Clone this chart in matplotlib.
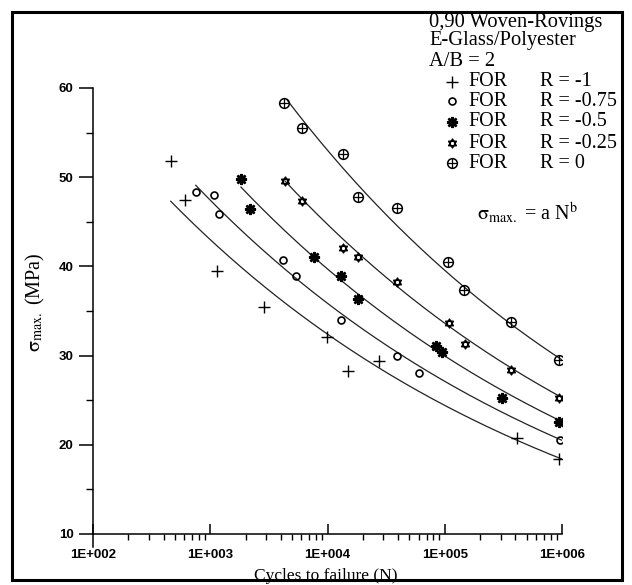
import numpy as np
import matplotlib.pyplot as plt
from matplotlib.lines import Line2D
from matplotlib.patches import Rectangle
from matplotlib.path import Path
from matplotlib.ticker import MultipleLocator, LogLocator, NullFormatter

plt.rcParams['mathtext.fontset'] = 'stix'
SERIF = 'Liberation Serif'
SANS = 'Liberation Sans'

# data
r_labels = ['R = -1', 'R = -0.75', 'R = -0.5', 'R = -0.25', 'R = 0']

n_m100 = [460, 610, 1150, 2890, 9900, 15100, 27500, 411000, 948000]
s_m100 = [51.8, 47.4, 39.5, 35.5, 32.1, 28.3, 29.4, 20.8, 18.4]

n_m075 = [755, 1085, 1194, 4170, 5360, 13100, 39400, 60300, 962000]
s_m075 = [48.3, 48.0, 45.9, 40.7, 38.9, 34.0, 30.0, 28.1, 20.5]

n_m050 = [1828, 2200, 7620, 13100, 18100, 84100, 94200, 307600, 948000]
s_m050 = [49.8, 46.4, 41.0, 38.9, 36.4, 31.1, 30.4, 25.2, 22.6]

n_m025 = [4335, 6030, 13650, 18300, 39400, 108600, 147900, 364800, 948000]
s_m025 = [49.6, 47.3, 42.1, 41.0, 38.3, 33.6, 31.3, 28.4, 25.3]

n_r0 = [4256, 6030, 13650, 18300, 39400, 107200, 145900, 364800, 941900]
s_r0 = [58.3, 55.5, 52.6, 47.8, 46.5, 40.5, 37.4, 33.8, 29.5]

# sigma = a N^b fits, drawn from n_start up to 1e6
fit_a = [100.5, 109.7, 122.6, 139.7, 171.1]
fit_b = [-0.1229, -0.1214, -0.1224, -0.1237, -0.1272]
fit_n0 = [460, 752, 1828, 4335, 4539]
fit_n1 = 1e6

x_ticks = [1e2, 1e3, 1e4, 1e5, 1e6]
x_tick_labels = ['1E+002', '1E+003', '1E+004', '1E+005', '1E+006']
y_ticks = [10, 20, 30, 40, 50, 60]

series_n = [n_m100, n_m075, n_m050, n_m025, n_r0]
series_s = [s_m100, s_m075, s_m050, s_m025, s_r0]

# marker shapes
s3 = np.sqrt(3) / 2
star = Path([(0, 1), (-s3, -0.5), (s3, -0.5), (0, 1),
             (0, -1), (-s3, 0.5), (s3, 0.5), (0, -1)],
            [Path.MOVETO, Path.LINETO, Path.LINETO, Path.CLOSEPOLY] * 2)

styles = [
    [dict(marker='+', ms=8, mew=1.0)],
    [dict(marker='o', ms=5, mfc='none', mew=1.2)],
    [dict(marker=(8, 2, 0), ms=8, mew=1.8)],
    [dict(marker=star, ms=6.5, mfc='none', mew=1.0)],
    [dict(marker='o', ms=7, mfc='none', mew=1.1), dict(marker='+', ms=7, mew=0.9)],
]

fig = plt.figure(figsize=(6.32, 5.85), dpi=100)
ax = fig.add_axes([93 / 632, 1 - 534 / 585, 469 / 632, 446 / 585])

for i in range(5):
    nn = np.logspace(np.log10(fit_n0[i]), np.log10(fit_n1), 200)
    ax.plot(nn, fit_a[i] * nn ** fit_b[i], color='#222222', lw=0.9)
    for st in styles[i]:
        ax.plot(series_n[i], series_s[i], ls='none', color='black', mec='black', **st)

ax.set_xscale('log')
ax.set_xlim(1e2, 1e6)
ax.set_ylim(10, 60)
for side in ['top', 'right']:
    ax.spines[side].set_visible(False)
for side in ['left', 'bottom']:
    ax.spines[side].set_linewidth(1.1)

ax.set_xticks(x_ticks)
ax.set_xticklabels(x_tick_labels)
ax.xaxis.set_minor_locator(LogLocator(base=10, subs=np.arange(2, 10)))
ax.xaxis.set_minor_formatter(NullFormatter())
ax.set_yticks(y_ticks)
ax.yaxis.set_minor_locator(MultipleLocator(5))

ax.tick_params(axis='x', which='major', direction='in', length=7, width=1.1, pad=11)
ax.tick_params(axis='x', which='minor', direction='out', length=4.5, width=1.0)
ax.tick_params(axis='y', which='major', direction='out', length=10, width=1.1, pad=4)
ax.tick_params(axis='y', which='minor', direction='out', length=5, width=1.0)
for lab in ax.get_xticklabels() + ax.get_yticklabels():
    lab.set_fontfamily(SANS)
    lab.set_fontweight('bold')
    lab.set_fontsize(9.5)

# y axis runs a little below the x axis
ax.plot([0, 0], [0, -13 / 446], transform=ax.transAxes, color='black', lw=1.1, clip_on=False)

sig = r'$\mathrm{\sigma_{max.}}$'
fig.text(35 / 632, 1 - 302 / 585, sig + ' (MPa)', rotation=90,
         ha='center', va='center', family=SERIF, fontsize=14.5)
fig.text(326 / 632, 1 - 576 / 585, 'Cycles to failure (N)',
         ha='center', va='center', family=SERIF, fontsize=12.5)

# info block
for txt, yp in [('0,90 Woven-Rovings', 22), ('E-Glass/Polyester', 41), ('A/B = 2', 61)]:
    fig.text(429 / 632, 1 - yp / 585, txt, ha='left', va='center', family=SERIF, fontsize=14.8)

row_y = [82, 101, 122, 143, 163]
for i in range(5):
    yf = 1 - row_y[i] / 585
    for st in styles[i]:
        fig.add_artist(Line2D([452 / 632], [yf], transform=fig.transFigure,
                              ls='none', color='black', mec='black', **st))
    fig.text(468 / 632, yf, 'FOR', ha='left', va='center', family=SERIF, fontsize=14.5)
    fig.text(540 / 632, yf, r_labels[i], ha='left', va='center', family=SERIF, fontsize=14.5)

fig.text(477 / 632, 1 - 213 / 585, sig + ' = a N$^{\\rm b}$',
         ha='left', va='center', family=SERIF, fontsize=14.5)

fig.add_artist(Rectangle((12 / 632, 1 - 580 / 585), 610 / 632, 568 / 585,
                         transform=fig.transFigure, fill=False, lw=2.2, ec='black'))

fig.savefig('out.png', dpi=100)
